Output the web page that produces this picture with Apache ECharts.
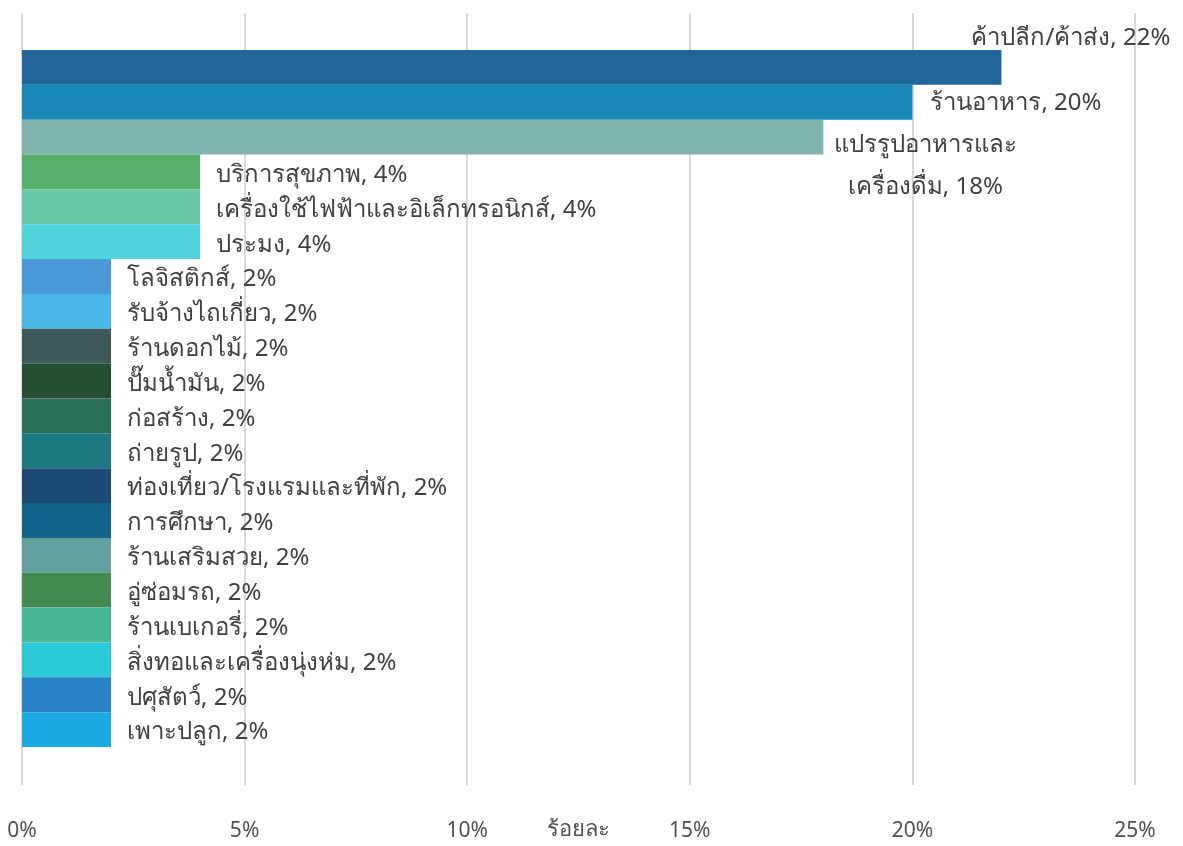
<!DOCTYPE html>
<html>
<head>
<meta charset="utf-8">
<style>
  html, body { margin: 0; padding: 0; background: #ffffff; }
  #chart { width: 1183px; height: 846px; }
</style>
<script src="https://cdn.jsdelivr.net/npm/echarts@6/dist/echarts.min.js"></script>
</head>
<body>
<div id="chart"></div>
<script>
// Share of businesses by type (percent)
const categories = [
  'ค้าปลีก/ค้าส่ง', 'ร้านอาหาร', 'แปรรูปอาหารและเครื่องดื่ม', 'บริการสุขภาพ',
  'เครื่องใช้ไฟฟ้าและอิเล็กทรอนิกส์', 'ประมง', 'โลจิสติกส์', 'รับจ้างไถเกี่ยว',
  'ร้านดอกไม้', 'ปั๊มน้ำมัน', 'ก่อสร้าง', 'ถ่ายรูป', 'ท่องเที่ยว/โรงแรมและที่พัก',
  'การศึกษา', 'ร้านเสริมสวย', 'อู่ซ่อมรถ', 'ร้านเบเกอรี่', 'สิ่งทอและเครื่องนุ่งห่ม',
  'ปศุสัตว์', 'เพาะปลูก'
];
const values = [22, 20, 18, 4, 4, 4, 2, 2, 2, 2, 2, 2, 2, 2, 2, 2, 2, 2, 2, 2];
const xTicks = [0, 5, 10, 15, 20, 25];
const barColors = [
  '#20669a', '#1889b6', '#82b4ae', '#56b06a', '#69c8a8', '#52d4de', '#4a98d8',
  '#4ab8e6', '#3e5a58', '#264e34', '#2a6e5a', '#1c7a80', '#1c4c74', '#14628a',
  '#62a09e', '#428a52', '#48b896', '#2ccad6', '#2a80c4', '#1ca8e0'
];

const FONT = "'Noto Sans', sans-serif";
const TEXT = '#404040';

// special label placement for the three longest bars
const labelTweaks = {
  0: { distance: 0, offset: [-30, -29] },
  1: { distance: 18, offset: [0, 1] },
  2: { distance: 0, align: 'center', offset: [102, 29],
       formatter: 'แปรรูปอาหารและ\nเครื่องดื่ม, 18%', lineHeight: 42 }
};

const barData = values.map((v, i) => {
  const item = { value: v, itemStyle: { color: barColors[i] } };
  if (labelTweaks[i]) item.label = labelTweaks[i];
  return item;
});

const chart = echarts.init(document.getElementById('chart'));
chart.setOption({
  animation: false,
  backgroundColor: '#ffffff',
  grid: [
    { left: 22, right: 48, top: 13, bottom: 61, outerBoundsMode: 'none' },
    { left: 22, right: 48, top: 50, bottom: 99, outerBoundsMode: 'none' }
  ],
  xAxis: [
    {
      gridIndex: 0, type: 'value', min: xTicks[0], max: xTicks[xTicks.length - 1],
      interval: xTicks[1] - xTicks[0],
      name: 'ร้อยละ', nameLocation: 'middle', nameGap: 45, nameMoveOverlap: false,
      nameTextStyle: { fontFamily: FONT, fontSize: 22, fontWeight: 'normal', color: '#505050',
                       verticalAlign: 'middle' },
      axisLine: { show: false }, axisTick: { show: false },
      axisLabel: { formatter: '{value}%', fontFamily: FONT, fontSize: 21, color: '#505050',
                   margin: 36 },
      splitLine: { lineStyle: { color: '#d9d9d9', width: 2 } }
    },
    {
      gridIndex: 1, type: 'value', min: xTicks[0], max: xTicks[xTicks.length - 1],
      show: false, splitLine: { show: false }
    }
  ],
  yAxis: [
    { gridIndex: 0, type: 'value', show: false, splitLine: { show: false } },
    { gridIndex: 1, type: 'category', data: categories, inverse: true, show: false }
  ],
  series: [{
    type: 'bar',
    xAxisIndex: 1, yAxisIndex: 1,
    barCategoryGap: 0,
    data: barData,
    label: {
      show: true, position: 'right', distance: 16, offset: [0, 3],
      formatter: '{b}, {c}%',
      fontFamily: FONT, fontSize: 24, color: TEXT
    }
  }]
});
</script>
</body>
</html>
